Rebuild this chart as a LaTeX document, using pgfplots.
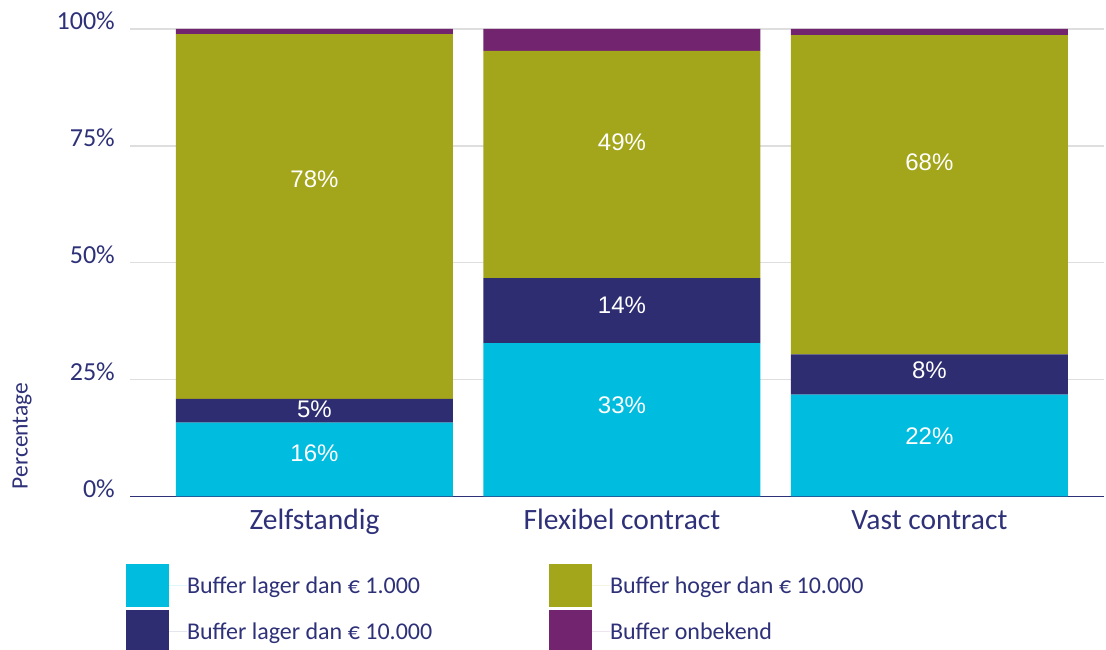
\documentclass[border=0pt]{standalone}
\usepackage{pgfplots}
\pgfplotsset{compat=1.18}
\usepackage{pgfplotstable}
\usepackage{fontspec}
\setmainfont{Carlito}
\newfontfamily\arialfont{Liberation Sans}
\definecolor{navytext}{RGB}{46,49,120}
\definecolor{cLight}{RGB}{0,188,223}
\definecolor{cDark}{RGB}{46,45,114}
\definecolor{cOlive}{RGB}{163,165,27}
\definecolor{cPurple}{RGB}{114,36,111}
\definecolor{gridgray}{RGB}{222,222,222}

\pgfplotstableread{
x light dark olive unknown
0 15.8 5.1 78.0 1.1
1 32.8 13.9 48.6 4.7
2 21.8 8.6 68.3 1.3
}\bardata

\pgfplotstableread{
x y v
0 9.3 16
0 18.7 5
0 67.8 78
1 19.6 33
1 41.0 14
1 75.8 49
2 12.9 22
2 27.1 8
2 71.6 68
}\labeldata

\pgfplotsset{
  common/.style={
    at={(130pt,153.5pt)}, anchor=south west,
    scale only axis, width=974pt, height=467.5pt,
    xmin=-0.6, xmax=2.568, ymin=0, ymax=100,
  },
  sqlegend/.style={legend image code/.code={%
    \fill[##1] (0pt,-21.5pt) rectangle (43pt,21.5pt);
    \path (0pt,0pt) -- (61pt,0pt);}},
}

\begin{document}
\begin{tikzpicture}
\useasboundingbox (0,0) rectangle (1106pt,650pt);
\begin{axis}[common,
  ybar stacked, bar width=277pt,
  axis lines=left,
  x axis line style={draw=navytext, line width=1.5pt, -},
  y axis line style={draw=none},
  tick style={draw=none},
  major tick length=0pt,
  ytick={0,25,50,75,100},
  yticklabels={0\%,25\%,50\%,75\%,100\%},
  ymajorgrids, grid style={gridgray, line width=1.5pt},
  xtick={0,1,2},
  xticklabels={Zelfstandig, Flexibel contract, Vast contract},
  yticklabel style={font=\fontsize{26}{30}\selectfont, text=navytext, anchor=east, inner sep=0pt, xshift=-15pt, yshift=8pt},
  xticklabel style={font=\fontsize{29.5}{34}\selectfont, text=navytext, anchor=base, inner sep=0pt, yshift=-33.5pt},
  legend columns=2,
  legend cell align=left,
  legend style={at={(-0.0041,-0.1444)}, anchor=north west, draw=none, fill=none,
    inner sep=0pt, outer sep=0pt, row sep=3pt, column sep=0pt,
    font=\fontsize{24}{28}\selectfont, text=navytext, nodes={inner sep=0pt}},
]
\addplot[fill=cLight, draw=none, forget plot] table[x=x, y=light]{\bardata};
\addplot[fill=cDark, draw=none, forget plot] table[x=x, y=dark]{\bardata};
\addplot[fill=cOlive, draw=none, forget plot] table[x=x, y=olive]{\bardata};
\addplot[fill=cPurple, draw=none, forget plot] table[x=x, y=unknown]{\bardata};
\addlegendimage{sqlegend, fill=cLight, draw=none}
\addlegendentry{\makebox[362pt][l]{Buffer lager dan € 1.000}}
\addlegendimage{sqlegend, fill=cOlive, draw=none}
\addlegendentry{Buffer hoger dan € 10.000}
\addlegendimage{sqlegend, fill=cDark, draw=none}
\addlegendentry{\makebox[362pt][l]{Buffer lager dan € 10.000}}
\addlegendimage{sqlegend, fill=cPurple, draw=none}
\addlegendentry{Buffer onbekend}
\end{axis}
\begin{axis}[common, hide axis, clip=false]
\addplot[only marks, mark=none, point meta=explicit,
  /pgf/number format/assume math mode=true,
  nodes near coords={\pgfmathprintnumber{\pgfplotspointmeta}\%},
  nodes near coords align={center},
  every node near coord/.append style={anchor=center, inner sep=0pt,
    font=\arialfont\fontsize{24}{28}\selectfont, text=white}]
  table[x=x, y=y, meta=v]{\labeldata};
\end{axis}
\node[rotate=90, font=\fontsize{23.5}{28}\selectfont, text=navytext, inner sep=0pt] at (22pt,214pt) {Percentage};
\end{tikzpicture}
\end{document}
